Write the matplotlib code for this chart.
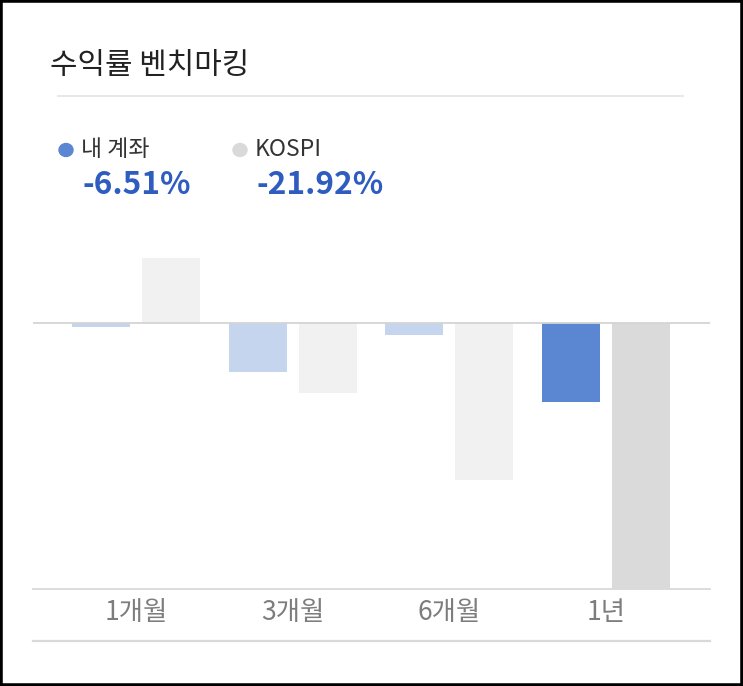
import matplotlib.pyplot as plt
import matplotlib.patches as patches
from matplotlib.lines import Line2D
import numpy as np

plt.rcParams['font.family'] = ['Noto Sans CJK KR', 'DejaVu Sans']

# data
periods = ["1개월", "3개월", "6개월", "1년"]
my_account = [-0.4, -4.03, -0.99, -6.51]
kospi = [5.29, -5.81, -12.98, -21.92]
title = "수익률 벤치마킹"
legend_names = ["내 계좌", "KOSPI"]
summary = ["-6.51%", "-21.92%"]

W, H = 743, 686
fig = plt.figure(figsize=(W / 100, H / 100), dpi=100)

def fx(px):
    return px / W

def fy(py):
    return 1 - py / H

# chart area
ax = fig.add_axes([fx(33), fy(589.3), fx(710) - fx(33), fy(230) - fy(589.3)])
x = np.arange(len(periods))
width = 0.37
off = 0.223

mine_colors = ["#c5d5ee"] * 3 + ["#5a86d2"]
kospi_colors = ["#f1f1f1"] * 3 + ["#dadada"]
ax.bar(x - off, my_account, width, color=mine_colors, zorder=2)
ax.bar(x + off, kospi, width, color=kospi_colors, zorder=2)

ax.axhline(0, color="#d4d4d4", linewidth=1.3, zorder=3)
ax.set_xlim(-0.657, 3.663)
ax.set_ylim(min(kospi), 7.6)

for s in ["top", "left", "right"]:
    ax.spines[s].set_visible(False)
ax.spines["bottom"].set_color("#d9d9d9")
ax.spines["bottom"].set_linewidth(1.3)
ax.set_yticks([])
ax.set_xticks(x)
ax.set_xticklabels(periods, fontsize=19, color="#7d7d7d", fontweight="light")
ax.tick_params(axis="x", length=0, pad=7)

# title and separators
fig.text(fx(50), fy(66), title, fontsize=21.5, color="#222222", va="center", ha="left")
fig.add_artist(Line2D([fx(58), fx(683)], [fy(96), fy(96)], color="#e6e6e6", linewidth=1.3))
fig.add_artist(Line2D([fx(33), fx(710)], [fy(641), fy(641)], color="#d9d9d9", linewidth=1.6))

# legend with summary values
dot_colors = ["#5a86d2", "#d9d9d9"]
legend_x = [66, 240]
for name, val, c, lx in zip(legend_names, summary, dot_colors, legend_x):
    fig.add_artist(patches.Circle((fx(lx), fy(150)), radius=7 / W, color=c,
                                  transform=fig.transFigure))
    fig.text(fx(lx + 15), fy(150), name, fontsize=16.5, color="#333333", va="center", ha="left")
    fig.text(fx(lx + 17), fy(185), val, fontsize=22.8, color="#2f5cbf", fontweight="bold",
             va="center", ha="left")

# black frame
fig.add_artist(patches.Rectangle((0, 0), 1, 1, transform=fig.transFigure, fill=False,
                                 edgecolor="black", linewidth=4))

fig.savefig("out.png", dpi=100)
